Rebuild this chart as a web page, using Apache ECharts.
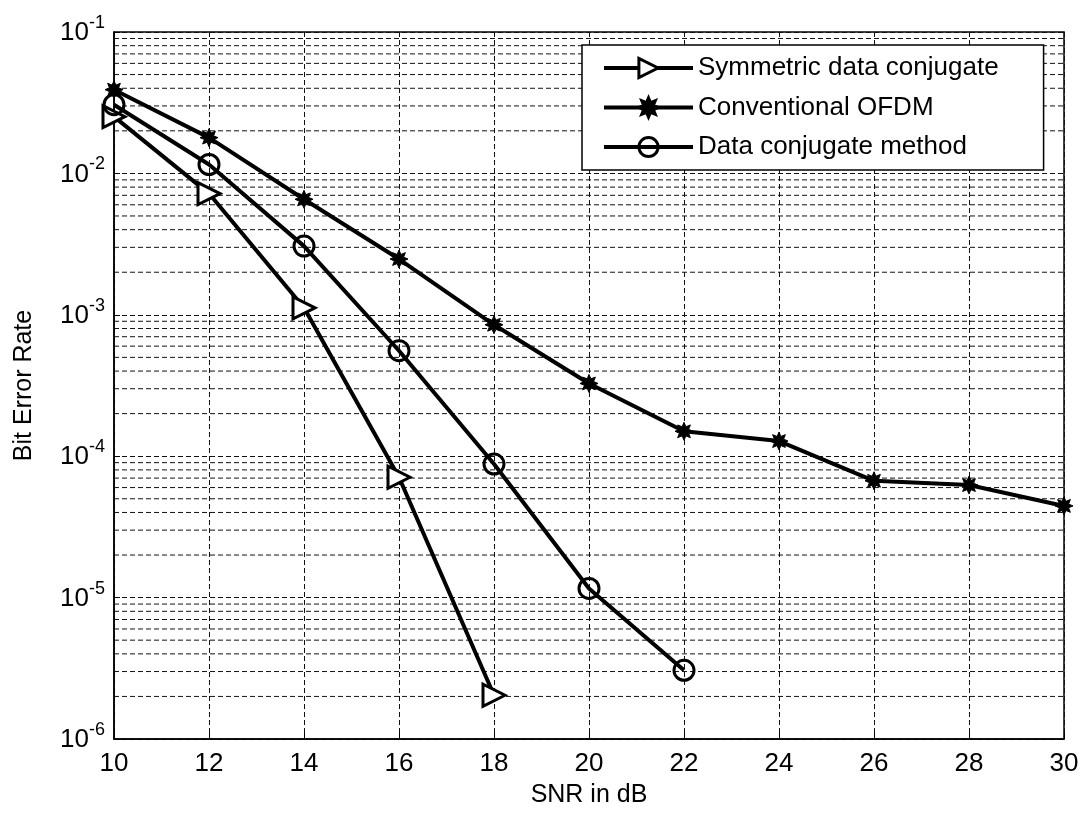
<!DOCTYPE html>
<html>
<head>
<meta charset="utf-8">
<script src="https://cdn.jsdelivr.net/npm/echarts@6/dist/echarts.min.js"></script>
<style>html,body{margin:0;padding:0;background:#fff;}#chart{width:1083px;height:813px;}</style>
</head>
<body>
<div id="chart"></div>
<script>
const snr = [10, 12, 14, 16, 18, 20, 22, 24, 26, 28, 30];
const symmetricBER = [0.0252, 0.0072, 0.00112, 7.1e-5, 2.04e-6];
const conventionalBER = [0.0391, 0.0179, 0.00656, 0.00248, 8.5e-4, 3.27e-4, 1.5e-4, 1.28e-4, 6.7e-5, 6.25e-5, 4.45e-5];
const conjugateBER = [0.0306, 0.01156, 0.00306, 5.57e-4, 8.8e-5, 1.16e-5, 3.06e-6];
const seriesNames = ['Symmetric data conjugate', 'Conventional OFDM', 'Data conjugate method'];
const minorMultipliers = [2, 3, 4, 5, 6, 7, 8, 9];
const minorDecades = [-6, -5, -4, -3, -2];

function pairs(vals) { return vals.map((v, i) => [snr[i], v]); }

// 8-pointed filled star for the "Conventional OFDM" marker
function starPath() {
  const pts = [];
  for (let i = 0; i < 16; i++) {
    const a = Math.PI / 2 + i * Math.PI / 8;
    const r = i % 2 === 0 ? 10 : 5.5;
    pts.push((10 + r * Math.cos(a)).toFixed(2) + ' ' + (10 - r * Math.sin(a)).toFixed(2));
  }
  return 'path://M' + pts.join(' L') + ' Z';
}
const STAR = starPath();

const gridLine = { color: '#111', width: 1, type: [5, 3] };

const minorSeries = [];
minorDecades.forEach(d => {
  minorMultipliers.forEach(k => {
    const v = k * Math.pow(10, d);
    minorSeries.push({
      type: 'line', silent: true, symbol: 'none', z: 1,
      data: [[snr[0], v], [snr[snr.length - 1], v]],
      lineStyle: gridLine, tooltip: { show: false }
    });
  });
});

const chart = echarts.init(document.getElementById('chart'));
chart.setOption({
  animation: false,
  backgroundColor: '#fff',
  textStyle: { fontFamily: 'Liberation Sans, Arial, sans-serif', color: '#000' },
  grid: { left: 114, top: 32, right: 19, bottom: 72, show: true, borderColor: '#000', borderWidth: 1.5, backgroundColor: 'transparent' },
  xAxis: {
    type: 'value', min: 10, max: 30, interval: 2,
    name: 'SNR in dB', nameLocation: 'middle', nameGap: 44,
    nameTextStyle: { fontSize: 25, color: '#000' },
    axisLine: { lineStyle: { color: '#000', width: 1.5 } },
    axisTick: { inside: true, length: 6, lineStyle: { color: '#000' } },
    axisLabel: { fontSize: 26, color: '#000', margin: 12 },
    splitLine: { show: true, lineStyle: gridLine }
  },
  yAxis: {
    type: 'log', logBase: 10, min: 1e-6, max: 1e-1,
    name: 'Bit Error Rate', nameLocation: 'middle', nameGap: 77,
    nameTextStyle: { fontSize: 25, color: '#000' },
    axisLine: { lineStyle: { color: '#000', width: 1.5 } },
    axisTick: { inside: true, length: 6, lineStyle: { color: '#000' } },
    axisLabel: {
      margin: 9,
      formatter: function (v) {
        const e = Math.round(Math.log10(v));
        return '{b|10}{s|' + e + '}';
      },
      rich: {
        b: { fontSize: 26, color: '#000', verticalAlign: 'bottom', lineHeight: 28 },
        s: { fontSize: 18, color: '#000', verticalAlign: 'bottom', padding: [0, 0, 14, 0], lineHeight: 28 }
      }
    },
    splitLine: { show: true, lineStyle: gridLine }
  },
  legend: {
    orient: 'vertical', left: 582, top: 45,
    backgroundColor: '#fff', borderColor: '#000', borderWidth: 1.5,
    padding: [8, 45, 8, 20], itemGap: 9.5, itemWidth: 89, itemHeight: 24,
    lineStyle: { width: 4, color: '#000' },
    itemStyle: { borderWidth: 3 },
    textStyle: { fontSize: 26, color: '#000', lineHeight: 30 },
    data: seriesNames
  },
  series: minorSeries.concat([
    {
      name: seriesNames[0], type: 'line', data: pairs(symmetricBER),
      symbol: 'triangle', symbolSize: 22, symbolRotate: -90,
      lineStyle: { color: '#000', width: 4 },
      itemStyle: { color: '#fff', borderColor: '#000', borderWidth: 3 }, z: 5
    },
    {
      name: seriesNames[1], type: 'line', data: pairs(conventionalBER),
      symbol: STAR, symbolSize: 18,
      lineStyle: { color: '#000', width: 4 },
      itemStyle: { color: '#000', borderColor: '#000', borderWidth: 1 }, z: 5
    },
    {
      name: seriesNames[2], type: 'line', data: pairs(conjugateBER),
      symbol: 'circle', symbolSize: 20,
      lineStyle: { color: '#000', width: 4 },
      itemStyle: { color: 'rgba(255,255,255,0)', borderColor: '#000', borderWidth: 3 }, z: 5
    }
  ])
});
</script>
</body>
</html>
